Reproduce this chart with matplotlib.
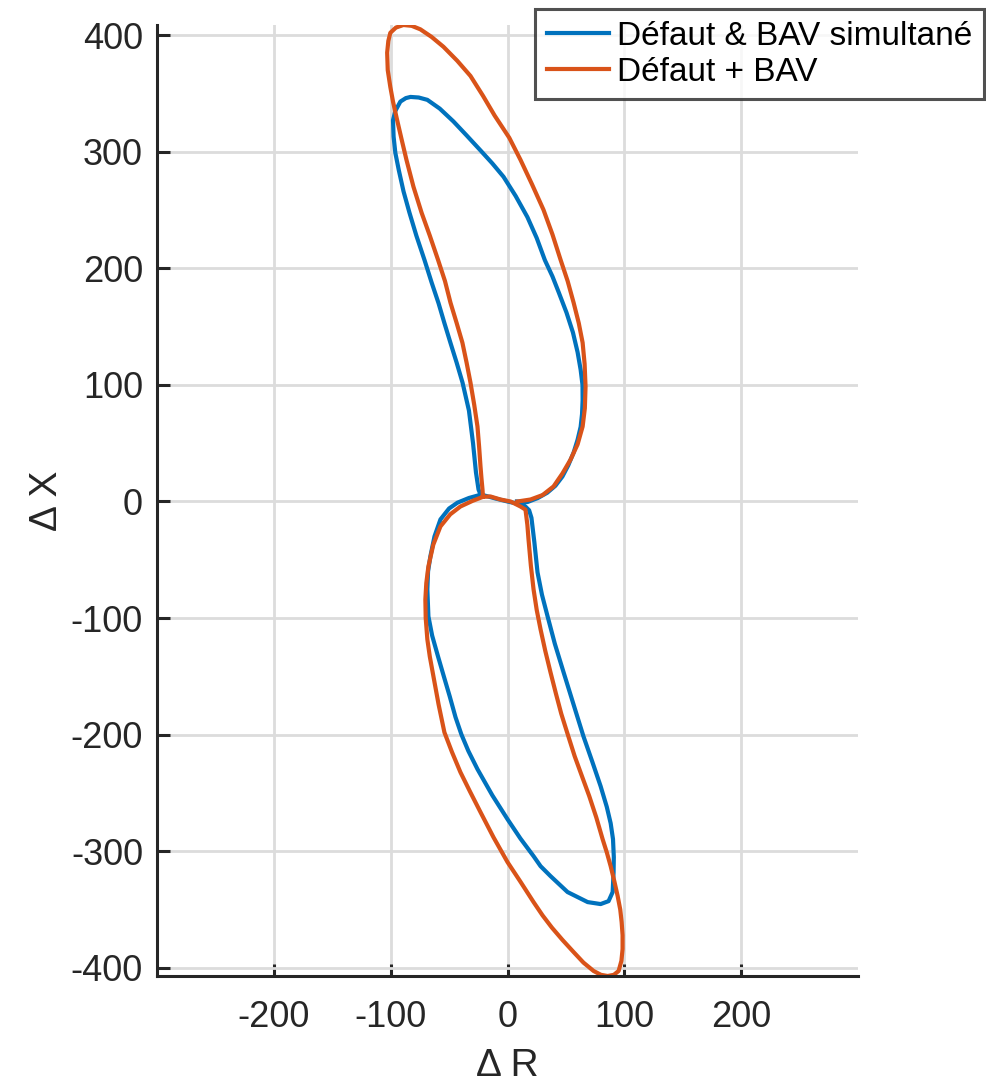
import matplotlib.pyplot as plt

plt.rcParams["font.family"] = ["Liberation Sans", "DejaVu Sans"]
plt.rcParams["axes.unicode_minus"] = False

# Trajectoire "Défaut & BAV simultané" : croisement, lobe bas, lobe haut
r_simul = [
    -21.0, -10.0, 0.0, 9.0, 15.0, 18.5,
    20.5, 23.0, 25.7, 29.5, 34.3, 40.5, 48.0, 56.5, 65.0, 72.5, 79.7, 85.0, 88.3, 90.3, 91.0,
    90.8, 90.0, 86.5, 79.7, 68.6, 51.4, 36.8, 28.3, 22.3, 11.0, 0.0, -13.0, -25.7, -33.5,
    -39.5, -44.5, -49.5, -54.5, -59.5, -64.5, -67.7, -68.6, -68.0, -66.0, -62.5, -57.4, -50.0,
    -42.8, -33.0, -23.0,
    -24.8, -27.0, -29.5, -33.0, -38.5, -43.5, -48.8, -54.0, -59.0, -65.0, -71.0, -78.0, -84.0,
    -89.0, -93.0, -96.0, -97.5, -98.0, -96.0, -91.7, -87.0, -83.0, -76.0, -68.6, -58.0, -46.3,
    -35.0, -23.0, -13.0, -3.4, 7.0, 17.0, 25.0, 32.0, 38.5, 44.0, 50.5, 56.0, 60.0, 62.6, 64.2,
    64.3, 63.8, 62.6, 60.0, 56.6, 52.0, 47.0, 41.0, 34.0, 26.0, 17.0, 8.0,
]
x_simul = [
    5.5, 2.5, 0.0, -2.0, -4.0, -7.5,
    -14.0, -35.0, -60.8, -80.0, -98.5, -122.0, -146.5, -174.0, -201.4, -223.0, -244.2, -262.0,
    -276.0, -289.6, -305.0, -318.0, -335.0, -342.8, -345.3, -343.6, -335.0, -321.3, -312.8,
    -304.2, -289.0, -272.5, -252.0, -229.6, -214.0, -199.7, -185.0, -167.0, -150.0, -132.8,
    -115.0, -98.5, -75.4, -60.0, -47.0, -30.0, -15.4, -6.0, -1.0, 3.0, 5.8,
    10.3, 25.0, 50.0, 78.0, 102.0, 119.0, 136.0, 153.0, 170.0, 188.0, 207.0, 228.0, 248.0,
    266.0, 284.0, 299.0, 313.0, 327.0, 335.0, 343.0, 346.0, 347.0, 346.5, 344.5, 337.0, 326.0,
    314.0, 301.0, 290.0, 278.5, 262.0, 244.0, 226.0, 207.0, 193.0, 179.0, 162.0, 145.0, 128.0,
    113.0, 100.0, 87.0, 75.0, 64.0, 53.0, 42.0, 31.0, 21.4, 13.5, 7.5, 3.0, -0.5, 0.0,
]

# Trajectoire "Défaut + BAV"
r_succ = [
    -21.0, -14.6, -6.0, 2.6, 11.1, 15.4,
    17.0, 18.0, 20.0, 22.3, 25.0, 28.3, 32.3, 36.8, 41.5, 46.0, 51.0, 57.5, 63.5, 70.0, 76.0,
    81.4, 85.0, 88.3, 91.5, 94.3, 96.5, 97.7, 98.5, 98.5, 97.5, 95.1, 91.0, 85.7, 80.0,
    73.7, 65.0, 56.6, 47.0, 38.0, 30.0, 22.3, 11.0, 0.0, -12.0, -23.1, -32.0, -40.3, -47.5,
    -54.0, -59.0, -63.4, -66.5, -68.6, -70.0, -70.3, -69.5, -67.7, -63.5, -57.4, -49.0, -40.3,
    -30.0, -21.0,
    -21.4, -22.3, -23.1, -24.3, -25.7, -28.5, -31.7, -35.0, -38.6, -43.5, -48.8, -53.5, -59.5,
    -66.5, -73.5, -80.5, -86.5, -90.5, -94.5, -98.0, -100.3, -102.5, -103.0, -102.0, -100.3,
    -95.5, -89.1, -82.0, -74.6, -65.0, -54.8, -43.0, -31.7, -21.0, -11.0, 1.5, 11.1, 21.0,
    30.8, 38.5, 45.4, 51.5, 56.6, 61.0, 64.3, 66.0, 66.8, 66.2, 64.3, 60.0, 54.0, 47.0, 39.4,
    30.0, 19.7, 8.6,
]
x_succ = [
    4.0, 4.3, 1.7, 0.0, -4.3, -7.0,
    -20.0, -32.6, -55.0, -75.4, -93.0, -109.7, -128.0, -146.5, -165.0, -182.0, -198.0, -218.5,
    -235.0, -252.8, -271.0, -289.6, -301.0, -312.8, -326.0, -338.5, -350.0, -360.8,
    -372.0, -383.9, -394.0, -402.7, -406.0, -407.0, -406.0, -402.7, -395.5, -386.5, -376.0,
    -365.5, -355.0, -343.6, -326.0, -309.3, -288.0, -266.5, -249.0, -232.2, -215.0, -198.0,
    -174.0, -150.0, -133.0, -118.3, -100.0, -84.0, -70.0, -55.7, -37.0, -21.4, -11.0, -4.3,
    0.5, 4.0,
    10.3, 20.0, 30.0, 47.0, 64.3, 83.0, 102.0, 119.0, 136.2, 153.0, 170.5, 189.0, 207.4,
    228.0, 247.6, 270.0, 293.1, 310.0, 327.3, 343.0, 355.6, 370.0, 385.0, 395.0, 402.0,
    406.5, 408.7, 408.0, 405.0, 398.5, 390.0, 378.0, 365.0, 348.0, 331.0, 312.0, 293.1, 272.0,
    250.2, 229.0, 207.4, 189.0, 170.5, 153.0, 136.2, 118.0, 98.5, 80.0, 64.3, 49.0, 36.0, 24.0,
    12.9, 5.5, 1.7, 0.0,
]

x_ticks = [-200, -100, 0, 100, 200]
y_ticks = [-400, -300, -200, -100, 0, 100, 200, 300, 400]

fig = plt.figure(figsize=(9.86, 10.84), dpi=100)
ax = fig.add_axes([157 / 986, 108 / 1084, 701 / 986, 951 / 1084])

ax.plot(r_simul, x_simul, color="#0072BD", linewidth=3, label="Défaut & BAV simultané",
        solid_joinstyle="round")
ax.plot(r_succ, x_succ, color="#D95319", linewidth=3, label="Défaut + BAV",
        solid_joinstyle="round")

ax.set_xlim(-300, 300)
ax.set_ylim(min(x_succ), max(x_succ))
ax.set_xticks(x_ticks)
ax.set_yticks(y_ticks)
ax.tick_params(direction="in", length=9, width=2.2, labelsize=26, colors="#262626", pad=10)
ax.tick_params(axis="x", pad=17)
ax.grid(True, color="#dcdcdc", linewidth=2)
ax.set_axisbelow(True)
for side in ["top", "right"]:
    ax.spines[side].set_visible(False)
for side in ["left", "bottom"]:
    ax.spines[side].set_linewidth(2.2)
    ax.spines[side].set_color("#262626")

ax.set_xlabel("Δ R", fontsize=28, color="#262626", labelpad=10)
ax.set_ylabel("Δ X", fontsize=28, color="#262626", labelpad=4)

leg = fig.legend(
    loc="upper right",
    bbox_to_anchor=(984 / 986, 1075 / 1084),
    fontsize=24,
    frameon=True,
    fancybox=False,
    handlelength=1.85,
    handletextpad=0.25,
    borderpad=0.35,
    labelspacing=0.15,
    borderaxespad=0,
)
leg.get_frame().set_edgecolor("#262626")
leg.get_frame().set_linewidth(2.2)

fig.savefig("out.png", dpi=100)
plt.close(fig)
